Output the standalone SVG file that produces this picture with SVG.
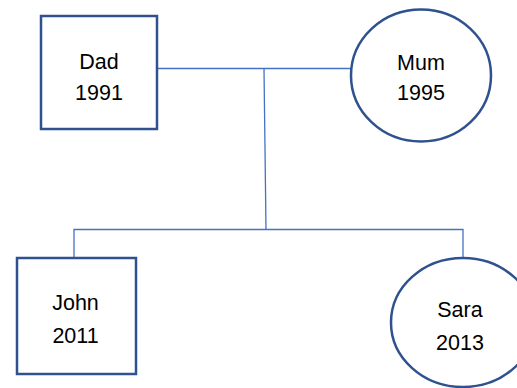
<svg xmlns="http://www.w3.org/2000/svg" width="517" height="388" viewBox="0 0 517 388">
<style>
.node{fill:#fff;stroke:#2F528F;stroke-width:2.5}
.conn{fill:none;stroke:#4472C4;stroke-width:1.3}
text{font-family:"Liberation Sans",Arial,sans-serif;font-size:21.5px;fill:#000;text-anchor:middle}
</style>
<rect width="517" height="388" fill="#fff"/>
<g id="connectors">
<line class="conn" x1="157" y1="68.5" x2="351" y2="68.5"/>
<line class="conn" x1="264" y1="68.5" x2="266" y2="229.5"/>
<polyline class="conn" points="74,258 74,229.5 463,229.5 463,258"/>
</g>
<g id="dad">
<rect class="node" x="41" y="16" width="116" height="113"/>
<text x="99" y="68.5">Dad</text>
<text x="99" y="99.5">1991</text>
</g>
<g id="mum">
<ellipse class="node" cx="421" cy="75.5" rx="70" ry="66"/>
<text x="421" y="70">Mum</text>
<text x="421" y="100">1995</text>
</g>
<g id="john">
<rect class="node" x="17" y="258" width="119" height="116"/>
<text x="75.5" y="309.5">John</text>
<text x="75.5" y="342.5">2011</text>
</g>
<g id="sara">
<ellipse class="node" cx="463" cy="322.5" rx="72" ry="64.5"/>
<text x="460" y="317">Sara</text>
<text x="460" y="350">2013</text>
</g>
</svg>
